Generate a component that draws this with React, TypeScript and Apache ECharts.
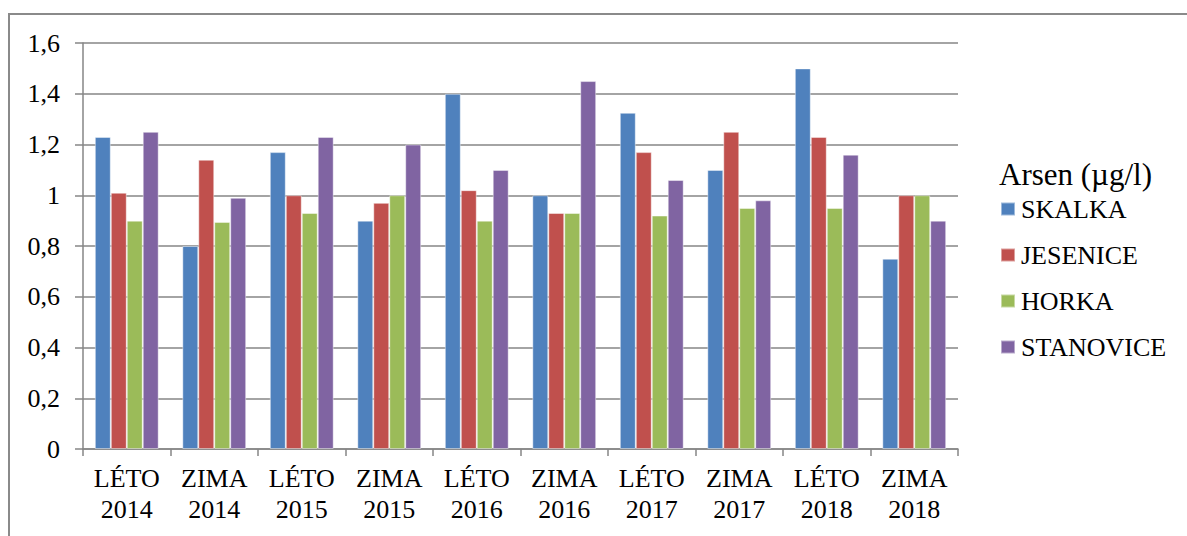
import React, { useEffect, useRef } from "react";
import * as echarts from "echarts";

// Seasonal arsenic concentrations at four sampling sites
const seasons = ["LÉTO", "ZIMA", "LÉTO", "ZIMA", "LÉTO", "ZIMA", "LÉTO", "ZIMA", "LÉTO", "ZIMA"];
const years = ["2014", "2014", "2015", "2015", "2016", "2016", "2017", "2017", "2018", "2018"];
const categories = seasons.map((s, i) => `${s}\n${years[i]}`);

const seriesNames = ["SKALKA", "JESENICE", "HORKA", "STANOVICE"];
const skalka = [1.23, 0.8, 1.17, 0.9, 1.4, 1.0, 1.325, 1.1, 1.5, 0.75];
const jesenice = [1.01, 1.14, 1.0, 0.97, 1.02, 0.93, 1.17, 1.25, 1.23, 1.0];
const horka = [0.9, 0.895, 0.93, 1.0, 0.9, 0.93, 0.92, 0.95, 0.95, 1.0];
const stanovice = [1.25, 0.99, 1.23, 1.2, 1.1, 1.45, 1.06, 0.98, 1.16, 0.9];
const seriesValues = [skalka, jesenice, horka, stanovice];
const colors = ["#4F81BD", "#C0504D", "#9BBB59", "#8064A2"];

const yMin = 0;
const yMax = 1.6;
const yStep = 0.2;
const legendTitle = "Arsen (µg/l)";

const FONT = "Liberation Serif, serif";
const AXIS_GRAY = "#868686";
const LABEL_SIZE = 26;

export default function App() {
  const ref = useRef<HTMLDivElement>(null);

  useEffect(() => {
    if (!ref.current) return;
    const chart = echarts.init(ref.current, undefined, { renderer: "svg" });
    chart.setOption({
      animation: false,
      backgroundColor: "#ffffff",
      textStyle: { fontFamily: FONT, color: "#000" },
      grid: { left: 83, right: 229, top: 43, bottom: 87, containLabel: false },
      graphic: [
        {
          type: "rect",
          shape: { x: 9, y: 14, width: 1300, height: 700 },
          style: { fill: "none", stroke: "#8a8a8a", lineWidth: 2 },
          silent: true,
        },
        {
          type: "text",
          x: 999,
          y: 174,
          style: {
            text: legendTitle,
            fontFamily: FONT,
            fontSize: 31,
            fill: "#000",
            verticalAlign: "middle",
          },
        },
      ],
      legend: {
        orient: "vertical",
        left: 1000,
        top: 196,
        padding: 0,
        itemWidth: 14,
        itemHeight: 13,
        itemGap: 20,
        icon: "rect",
        data: seriesNames,
        textStyle: { fontFamily: FONT, fontSize: LABEL_SIZE, lineHeight: 25, color: "#000", padding: [0, 0, 0, 1] },
      },
      xAxis: {
        type: "category",
        data: categories,
        axisLine: { lineStyle: { color: AXIS_GRAY, width: 1.5 } },
        axisTick: { show: true, length: 7, alignWithLabel: false, lineStyle: { color: AXIS_GRAY, width: 1.5 } },
        axisLabel: {
          interval: 0,
          margin: 14,
          fontFamily: FONT,
          fontSize: LABEL_SIZE,
          lineHeight: 31,
          color: "#000",
        },
      },
      yAxis: {
        type: "value",
        min: yMin,
        max: yMax,
        interval: yStep,
        axisLine: { show: true, lineStyle: { color: AXIS_GRAY, width: 1.5 } },
        axisTick: { show: true, length: 8, lineStyle: { color: AXIS_GRAY, width: 1.5 } },
        splitLine: { lineStyle: { color: AXIS_GRAY, width: 1.5 } },
        axisLabel: {
          margin: 23,
          fontFamily: FONT,
          fontSize: LABEL_SIZE,
          color: "#000",
          formatter: (v: number) => String(Number(v.toFixed(1))).replace(".", ","),
        },
      },
      series: seriesNames.map((name, i) => ({
        name,
        type: "bar",
        data: seriesValues[i],
        barGap: "0%",
        barCategoryGap: "27%",
        itemStyle: { color: colors[i], borderColor: "rgba(255,255,255,0.45)", borderWidth: 1 },
      })),
    });
    return () => chart.dispose();
  }, []);

  return (
    <div
      ref={ref}
      style={{ position: "fixed", left: 0, top: 0, width: 1187, height: 536, background: "#fff" }}
    />
  );
}
